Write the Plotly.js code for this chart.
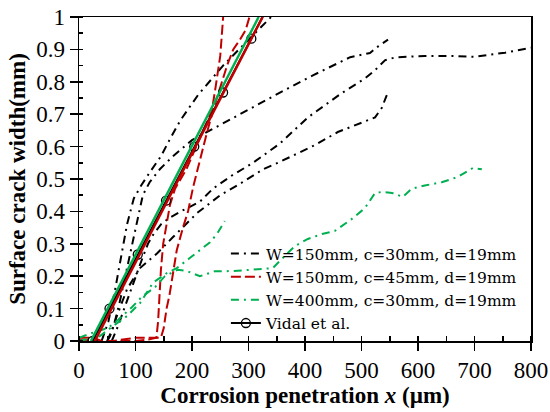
<!DOCTYPE html>
<html>
<head>
<meta charset="utf-8">
<script src="https://cdn.plot.ly/plotly-3.0.1.min.js"></script>
<style>html,body{margin:0;padding:0;background:#fff;}#chart{width:550px;height:412px;}</style>
</head>
<body>
<div id="chart"></div>
<script>
// ---- data (corrosion penetration x in µm, surface crack width in mm) ----
var seriesNames = ["W=150mm, c=30mm, d=19mm", "W=150mm, c=45mm, d=19mm", "W=400mm, c=30mm, d=19mm", "Vidal et al."];

// W=150mm, c=30mm (black dash-dot), four specimens
var b1x = [40, 52, 63, 75, 85, 97, 110, 125, 145, 160, 179, 211, 255, 303, 340];
var b1y = [0, 0.06, 0.15, 0.26, 0.36, 0.44, 0.48, 0.52, 0.57, 0.62, 0.68, 0.76, 0.85, 0.935, 1.0];
var b2x = [50, 62, 72, 82, 92, 102, 113, 125, 143, 166, 200, 250, 290, 333, 370, 414, 450, 480, 515, 530, 547];
var b2y = [0, 0.05, 0.12, 0.2, 0.28, 0.36, 0.45, 0.49, 0.53, 0.57, 0.62, 0.667, 0.705, 0.744, 0.78, 0.82, 0.85, 0.876, 0.889, 0.91, 0.93];
var b3x = [58, 70, 80, 90, 100, 111, 122, 132, 145, 160, 180, 214, 237, 270, 308, 356, 405, 465, 506, 524, 542, 559, 612, 660, 700, 754, 800];
var b3y = [0, 0.05, 0.1, 0.15, 0.2, 0.25, 0.3, 0.33, 0.36, 0.38, 0.4, 0.43, 0.47, 0.51, 0.55, 0.61, 0.69, 0.765, 0.81, 0.836, 0.867, 0.875, 0.88, 0.88, 0.877, 0.89, 0.905];
var b4x = [50, 55, 67, 85, 108, 138, 166, 191, 209, 250, 280, 326, 352, 418, 458, 524, 536, 545];
var b4y = [0, 0.015, 0.077, 0.16, 0.225, 0.27, 0.32, 0.364, 0.395, 0.45, 0.48, 0.53, 0.55, 0.605, 0.645, 0.69, 0.72, 0.76];

// W=150mm, c=45mm (red dashed), two specimens
var r1x = [0, 25, 40, 70, 100, 125, 137, 140, 142, 145, 149, 155, 161, 170, 180, 190, 200, 210, 220, 228, 235, 241, 245, 250, 253, 256];
var r1y = [0.01, 0.01, 0, 0, 0, 0.005, 0.01, 0.06, 0.14, 0.22, 0.3, 0.36, 0.42, 0.47, 0.5, 0.53, 0.57, 0.61, 0.65, 0.68, 0.71, 0.775, 0.82, 0.88, 0.95, 1.02];
var r2x = [0, 30, 60, 100, 130, 145, 150, 155, 160, 166, 173, 184, 193, 202, 214, 226, 237, 250, 262, 273, 285, 295, 305];
var r2y = [0.005, 0, 0, 0.01, 0.01, 0.01, 0.04, 0.1, 0.14, 0.2, 0.28, 0.35, 0.4, 0.475, 0.56, 0.64, 0.71, 0.78, 0.85, 0.9, 0.93, 0.96, 1.02];

// W=400mm, c=30mm (green dash-dot), two specimens
var g1x = [0, 28, 51, 69, 94, 111, 135, 152, 175, 191, 214, 240, 273, 308, 343, 360, 382, 405, 430, 453, 483, 506, 515, 524, 536, 554, 573, 589, 612, 642, 670, 697, 713];
var g1y = [0.01, 0.028, 0.04, 0.065, 0.105, 0.136, 0.167, 0.2, 0.22, 0.216, 0.2, 0.215, 0.216, 0.22, 0.225, 0.255, 0.293, 0.315, 0.33, 0.34, 0.377, 0.41, 0.435, 0.457, 0.46, 0.457, 0.445, 0.47, 0.48, 0.49, 0.506, 0.534, 0.53];
var g2x = [0, 37, 60, 85, 108, 131, 156, 173, 196, 214, 232, 244, 258];
var g2y = [0, 0.015, 0.046, 0.077, 0.117, 0.18, 0.21, 0.225, 0.256, 0.28, 0.305, 0.33, 0.37];

// Vidal et al. model lines
var vidalX = [24, 54, 104, 154, 204, 255, 305, 355];
var vidalY = [0, 0.1, 0.267, 0.433, 0.6, 0.767, 0.933, 1.1];
var vidalRedX = [28, 325];
var vidalRedY = [0, 1];
var vidalGreenX = [21, 318];
var vidalGreenY = [0, 1];

// ---- styles ----
var BLACK = "#000000", RED = "#C00000", GREEN = "#00B050";
var dashDot = "8px,5px,2px,5px";
var longDash = "10px,4px";

function curve(x, y, color, dash, name, show, group) {
  return {x: x, y: y, type: "scatter", mode: "lines", name: name, legendgroup: group,
          showlegend: show, line: {color: color, width: 2, dash: dash}, hoverinfo: "skip"};
}

var traces = [
  curve(b1x, b1y, BLACK, dashDot, seriesNames[0], true, "b"),
  curve(b2x, b2y, BLACK, dashDot, seriesNames[0], false, "b"),
  curve(b3x, b3y, BLACK, dashDot, seriesNames[0], false, "b"),
  curve(b4x, b4y, BLACK, dashDot, seriesNames[0], false, "b"),
  curve(r1x, r1y, RED, longDash, seriesNames[1], true, "r"),
  curve(r2x, r2y, RED, longDash, seriesNames[1], false, "r"),
  curve(g1x, g1y, GREEN, dashDot, seriesNames[2], true, "g"),
  curve(g2x, g2y, GREEN, dashDot, seriesNames[2], false, "g"),
  {x: vidalX, y: vidalY, type: "scatter", mode: "lines+markers", name: seriesNames[3],
   line: {color: BLACK, width: 2},
   marker: {symbol: "circle-open", size: 9, color: BLACK, line: {width: 1.3, color: BLACK}}},
  {x: vidalRedX, y: vidalRedY, type: "scatter", mode: "lines", showlegend: false,
   line: {color: RED, width: 2.5}},
  {x: vidalGreenX, y: vidalGreenY, type: "scatter", mode: "lines", showlegend: false,
   line: {color: GREEN, width: 2.5}}
];

var FONT = "'Liberation Serif', 'Times New Roman', serif";
var LEGFONT = "'DejaVu Serif', 'Liberation Serif', serif";
var axisCommon = {
  showgrid: false, zeroline: false, showline: true, linecolor: BLACK, linewidth: 1.5, mirror: true,
  ticks: "outside", ticklen: 8, tickwidth: 1.5, tickcolor: BLACK,
  tickfont: {family: FONT, size: 23, color: BLACK}
};

var layout = {
  width: 550, height: 412,
  margin: {l: 79, r: 19, t: 17, b: 71},
  paper_bgcolor: "#ffffff", plot_bgcolor: "#ffffff",
  font: {family: FONT, color: BLACK},
  showlegend: true,
  xaxis: Object.assign({}, axisCommon, {
    range: [0, 800], dtick: 100, tick0: 0,
    minor: {dtick: 50, ticks: "inside", ticklen: 5, tickwidth: 1.5, tickcolor: BLACK},
    title: {text: "<b>Corrosion penetration <i>x</i> (µm)</b>", font: {family: FONT, size: 23, color: BLACK}, standoff: 4}
  }),
  yaxis: Object.assign({}, axisCommon, {
    range: [0, 1], dtick: 0.1, tick0: 0,
    minor: {dtick: 0.05, ticks: "inside", ticklen: 4, tickwidth: 1.5, tickcolor: BLACK},
    title: {text: "<b>Surface crack width(mm)</b>", font: {family: FONT, size: 23, color: BLACK}, standoff: 4}
  }),
  legend: {
    x: 0.325, xanchor: "left", y: 0.321, yanchor: "top",
    bgcolor: "rgba(0,0,0,0)", borderwidth: 0,
    font: {family: LEGFONT, size: 15.5, color: BLACK},
    tracegroupgap: 0
  }
};

Plotly.newPlot("chart", traces, layout, {staticPlot: true, displayModeBar: false});
</script>
</body>
</html>
